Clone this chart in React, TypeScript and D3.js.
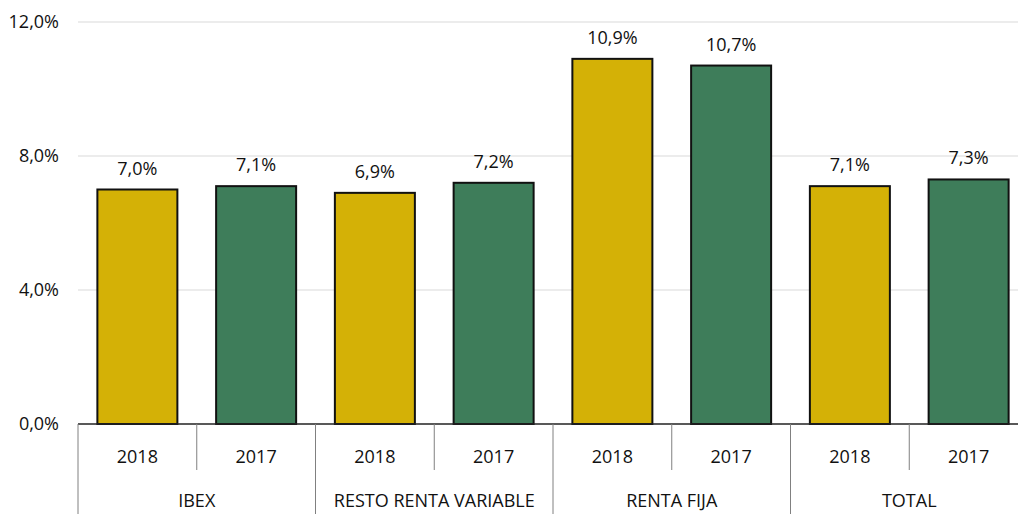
import React from "react";
import * as d3 from "d3";

// data
const groups = ["IBEX", "RESTO RENTA VARIABLE", "RENTA FIJA", "TOTAL"];
const years = ["2018", "2017"];
const values2018 = [7.0, 6.9, 10.9, 7.1];
const values2017 = [7.1, 7.2, 10.7, 7.3];
const yTicks = [0, 4, 8, 12];

const colors: Record<string, string> = { "2018": "#D4B106", "2017": "#3E7D5A" };
const W = 1018, H = 514;
const margin = { top: 22, left: 78, right: -10, bottom: 90 };
const fmt = (v: number) => v.toFixed(1).replace(".", ",") + "%";

export default function App() {
  const plotRight = W - margin.right; // last group runs past the edge
  const y = d3.scaleLinear().domain([0, 12]).range([H - margin.bottom, margin.top]);
  const x0 = d3.scaleBand().domain(groups).range([margin.left, plotRight]);
  const x1 = d3.scaleBand().domain(years).range([0, x0.bandwidth()]);
  const barW = 80;
  const base = y(0);

  const rows = groups.flatMap((g, i) => [
    { g, year: "2018", v: values2018[i] },
    { g, year: "2017", v: values2017[i] },
  ]);

  const font = "'Open Sans', 'DejaVu Sans', sans-serif";

  return (
    <svg width={W} height={H} style={{ position: "absolute", left: 0, top: 0 }} fontFamily={font}>
      {/* gridlines + y labels */}
      {yTicks.map((t) => (
        <g key={t}>
          {t > 0 && (
            <line x1={margin.left} x2={W} y1={y(t)} y2={y(t)} stroke="#d9d9d9" strokeWidth={1} />
          )}
          <text x={59} y={y(t)} dy="0.35em" textAnchor="end" fontSize={18} fill="#111">
            {fmt(t)}
          </text>
        </g>
      ))}

      {/* bars */}
      {rows.map((d, i) => {
        const cx = x0(d.g)! + x1(d.year)! + x1.bandwidth() / 2;
        return (
          <g key={i}>
            <rect
              x={cx - barW / 2}
              y={y(d.v)}
              width={barW}
              height={base - y(d.v)}
              fill={colors[d.year]}
              stroke="#111"
              strokeWidth={2}
            />
            <text x={cx} y={y(d.v) - 15} textAnchor="middle" fontSize={18} fill="#111">
              {fmt(d.v)}
            </text>
            <text x={cx} y={457} dy="0.35em" textAnchor="middle" fontSize={18} fill="#111">
              {d.year}
            </text>
          </g>
        );
      })}

      {/* category axis */}
      <line x1={margin.left} x2={W} y1={base} y2={base} stroke="#222" strokeWidth={1.5} />
      {groups.map((g) => {
        const gx = x0(g)!;
        return (
          <g key={g}>
            <line x1={gx} x2={gx} y1={base} y2={H} stroke="#808080" strokeWidth={1} />
            <line
              x1={gx + x1.bandwidth()}
              x2={gx + x1.bandwidth()}
              y1={base}
              y2={470}
              stroke="#808080"
              strokeWidth={1}
            />
            <text x={gx + x0.bandwidth() / 2} y={501} dy="0.35em" textAnchor="middle" fontSize={18} fill="#111">
              {g}
            </text>
          </g>
        );
      })}
    </svg>
  );
}
